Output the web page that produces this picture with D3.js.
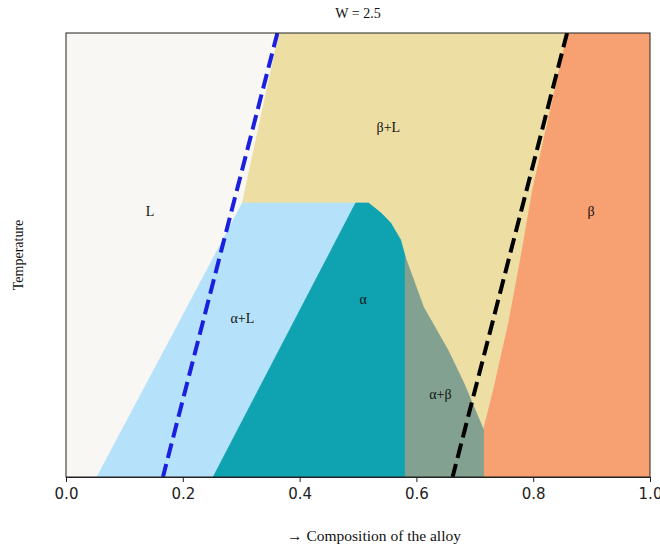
<!DOCTYPE html>
<html>
<head>
<meta charset="utf-8">
<script src="https://cdn.jsdelivr.net/npm/d3@7"></script>
<style>
  body { margin: 0; background: #fff; }
  svg { display: block; }
</style>
</head>
<body>
<svg id="chart" width="660" height="548"></svg>
<script>
// ---- Data (composition x, temperature T in [0,1]) ----
const title = "W = 2.5";
const xTicks = [0.0, 0.2, 0.4, 0.6, 0.8, 1.0];

// L | alpha+L boundary (liquidus, alpha side)
const liquidusAlpha = [[0.053, 0.0], [0.178, 0.309], [0.302, 0.617]];
// L | beta+L boundary (liquidus, beta side)
const liquidusBeta = [[0.302, 0.617], [0.365, 1.0]];
// alpha+L | alpha (solidus)
const solidusAlpha = [[0.252, 0.0], [0.496, 0.617]];
// plateau temperature
const plateauT = 0.617;
// top of alpha region (dome)
const alphaDome = [[0.496, 0.617], [0.518, 0.617], [0.539, 0.595], [0.556, 0.572], [0.573, 0.534], [0.581, 0.495]];
// alpha | alpha+beta (vertical solvus)
const alphaSolvusX = 0.581;
// beta+L | alpha+beta boundary
const betaLAlphaBeta = [[0.581, 0.495], [0.612, 0.383], [0.654, 0.286], [0.681, 0.212], [0.715, 0.106]];
// alpha+beta | beta (vertical)
const betaSolvusX = 0.715;
// beta+L | beta boundary
const solidusBeta = [[0.715, 0.106], [0.732, 0.196], [0.758, 0.347], [0.779, 0.495], [0.799, 0.646], [0.859, 1.0]];

// dashed reference lines
const blueLine = [[0.166, 0.0], [0.362, 1.0]];
const blackLine = [[0.662, 0.0], [0.858, 1.0]];

const phaseLabels = ["L", "β+L", "β", "α+L", "α", "α+β"];
const labelX = [0.144, 0.552, 0.899, 0.302, 0.509, 0.641];
const labelT = [0.597, 0.788, 0.597, 0.358, 0.399, 0.185];

const colors = {
  L: "#f9f7f3",
  alphaL: "#b5e2fa",
  alpha: "#0fa3b1",
  betaL: "#eddea4",
  alphaBeta: "#83a191",
  beta: "#f7a072"
};

// ---- Layout ----
const svg = d3.select("#chart");
const margin = { left: 66, right: 10, top: 33, bottom: 71 };
const W = 660, H = 548;
const x = d3.scaleLinear().domain([0, 1]).range([margin.left, W - margin.right]);
const y = d3.scaleLinear().domain([0, 1]).range([H - margin.bottom, margin.top]);

const defs = svg.append("defs");
defs.append("clipPath").attr("id", "clip")
  .append("rect")
  .attr("x", x(0)).attr("y", y(1))
  .attr("width", x(1) - x(0)).attr("height", y(0) - y(1));

const g = svg.append("g").attr("clip-path", "url(#clip)");
const line = d3.line().x(d => x(d[0])).y(d => y(d[1]));
const poly = pts => line(pts) + "Z";
const region = (pts, c) => g.append("path").attr("d", poly(pts))
  .attr("fill", c).attr("stroke", c).attr("stroke-width", 0.8);

// L background
region([[0, 0], [1, 0], [1, 1], [0, 1]], colors.L);

// beta+L
region([...liquidusBeta.slice().reverse(), [liquidusBeta[0][0], 0], [1, 0], [1, 1]], colors.betaL);

// beta
region([...solidusBeta, [1, 1], [1, 0], [betaSolvusX, 0]], colors.beta);

// alpha+L
region([...liquidusAlpha, [solidusAlpha[1][0], plateauT], ...solidusAlpha.slice().reverse()], colors.alphaL);

// alpha
region([solidusAlpha[0], ...alphaDome, [alphaSolvusX, 0]], colors.alpha);

// alpha+beta
region([[alphaSolvusX, 0], ...betaLAlphaBeta, [betaSolvusX, 0]], colors.alphaBeta);

// dashed lines
g.append("path").attr("d", line(blueLine.slice().reverse()))
  .attr("fill", "none").attr("stroke", "#1a1fe0").attr("stroke-width", 4)
  .attr("stroke-dasharray", "14.8,6.4");
g.append("path").attr("d", line(blackLine.slice().reverse()))
  .attr("fill", "none").attr("stroke", "#000").attr("stroke-width", 4)
  .attr("stroke-dasharray", "14.8,6.4");

// phase labels
const serif = "Liberation Serif, Times New Roman, Times, serif";
svg.append("g").selectAll("text").data(phaseLabels).join("text")
  .attr("x", (d, i) => x(labelX[i]))
  .attr("y", (d, i) => y(labelT[i]))
  .attr("text-anchor", "middle").attr("dominant-baseline", "central")
  .style("font-family", serif).attr("font-size", 14).attr("fill", "#111")
  .text(d => d);

// frame
svg.append("rect")
  .attr("x", x(0)).attr("y", y(1))
  .attr("width", x(1) - x(0)).attr("height", y(0) - y(1))
  .attr("fill", "none").attr("stroke", "#222").attr("stroke-width", 1);

// x axis
const xAxis = d3.axisBottom(x).tickValues(xTicks).tickFormat(d3.format(".1f")).tickSize(5).tickPadding(6);
const ax = svg.append("g").attr("transform", `translate(0,${y(0)})`).call(xAxis);
ax.select(".domain").attr("stroke", "#222");
ax.selectAll(".tick line").attr("stroke", "#222");
ax.selectAll(".tick text").style("font-family", "DejaVu Sans, sans-serif").attr("font-size", 15).attr("fill", "#222");

// titles
svg.append("text").attr("x", (x(0) + x(1)) / 2).attr("y", 13)
  .attr("text-anchor", "middle").attr("dominant-baseline", "central")
  .style("font-family", serif).attr("font-size", 14).attr("fill", "#111").text(title);

svg.append("text").attr("x", 374).attr("y", 535)
  .attr("text-anchor", "middle").attr("dominant-baseline", "central")
  .style("font-family", serif).attr("font-size", 15.5).attr("fill", "#111").text("→ Composition of the alloy");

svg.append("text")
  .attr("transform", `translate(18,${(y(0) + y(1)) / 2}) rotate(-90)`)
  .attr("text-anchor", "middle").attr("dominant-baseline", "central")
  .style("font-family", serif).attr("font-size", 14).attr("fill", "#111").text("Temperature");
</script>
</body>
</html>
